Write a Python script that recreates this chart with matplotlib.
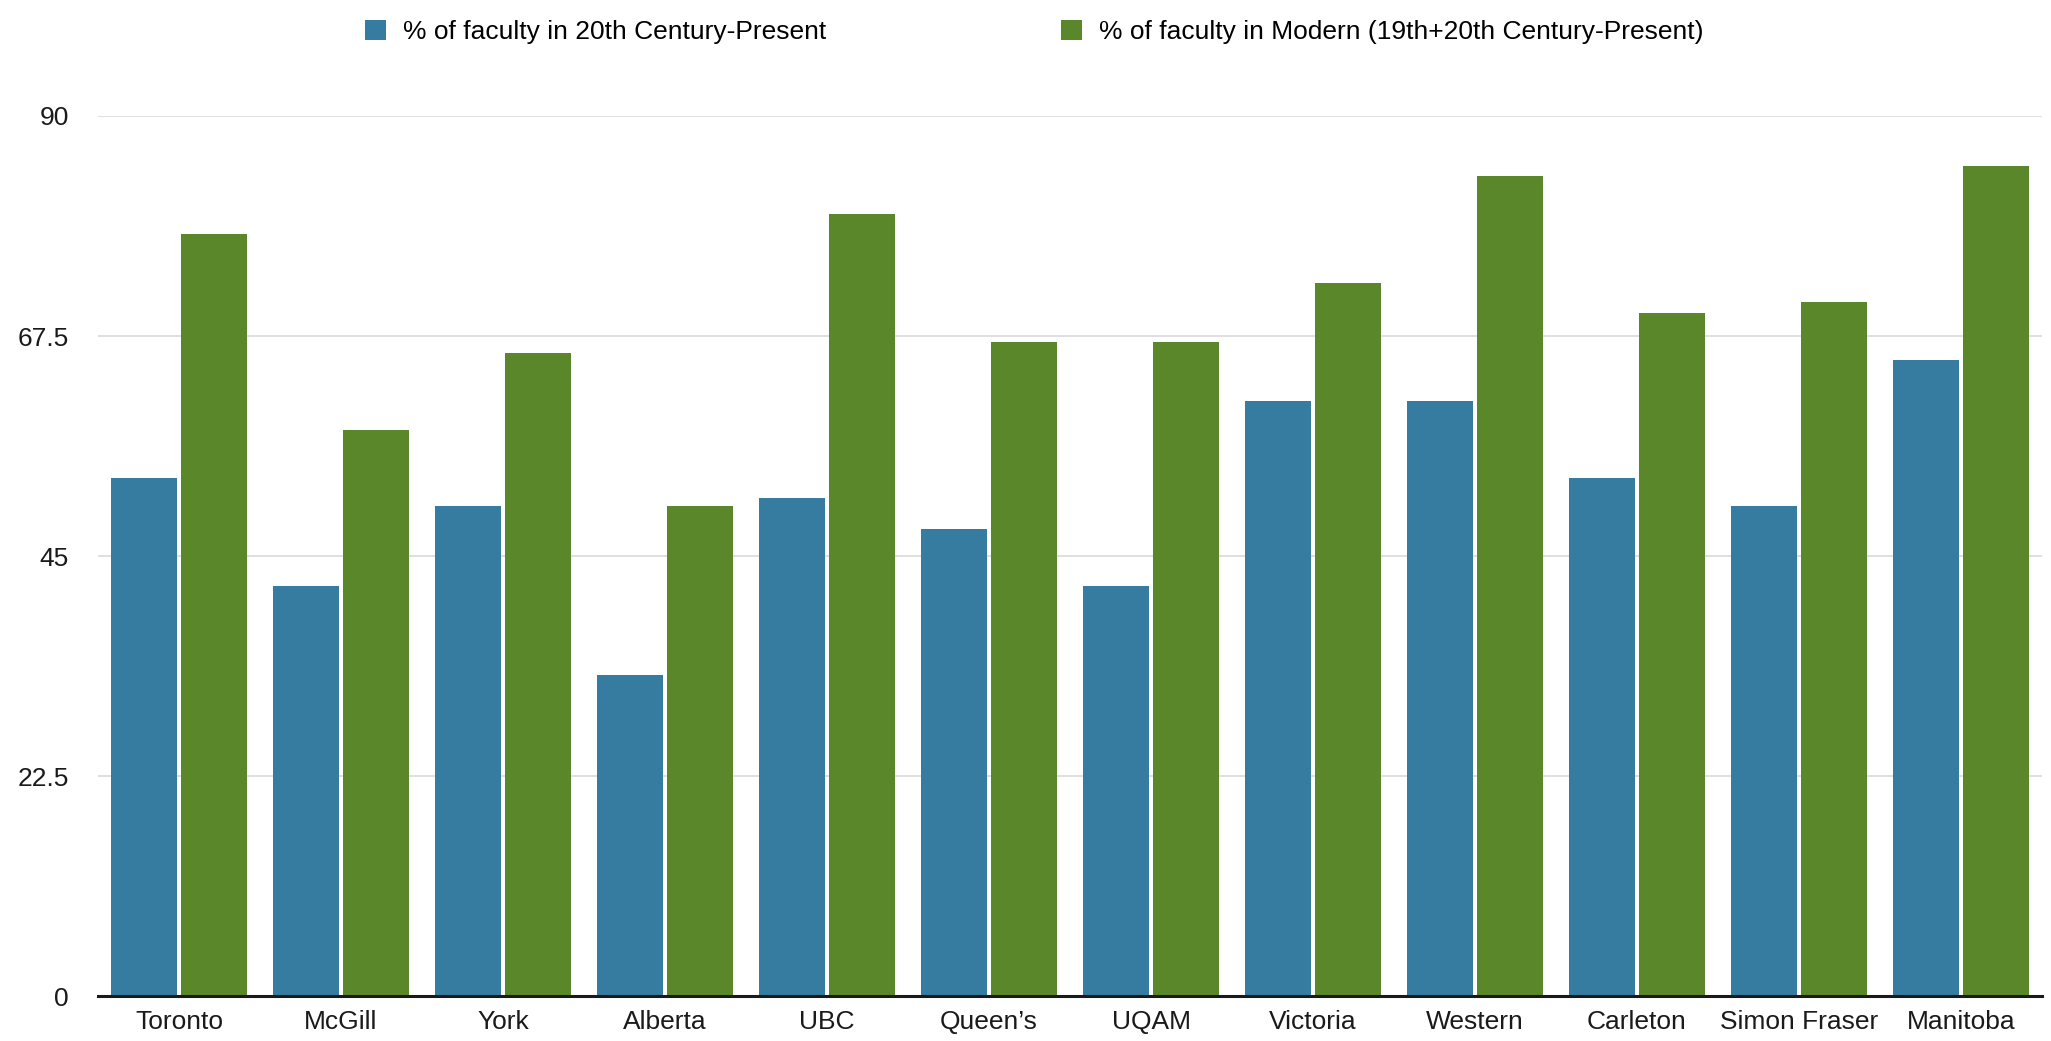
import matplotlib.pyplot as plt
import numpy as np

plt.rcParams["font.family"] = ["Liberation Sans", "DejaVu Sans"]

universities = ["Toronto", "McGill", "York", "Alberta", "UBC", "Queen\u2019s",
                "UQAM", "Victoria", "Western", "Carleton", "Simon Fraser", "Manitoba"]
pct_20th = [53.0, 41.9, 50.1, 32.8, 50.9, 47.8, 41.9, 60.9, 60.9, 53.0, 50.1, 65.0]
pct_modern = [77.9, 57.9, 65.8, 50.1, 80.0, 66.9, 66.9, 72.9, 83.9, 69.9, 71.0, 84.9]
series_names = ["% of faculty in 20th Century-Present",
                "% of faculty in Modern (19th+20th Century-Present)"]
yticks = [0, 22.5, 45, 67.5, 90]

blue = "#367ca1"
green = "#5a8729"

fig = plt.figure(figsize=(20.51, 10.41), dpi=100)
ax = fig.add_axes([98 / 2051, 45 / 1041, 1944 / 2051, 880 / 1041])

x = np.arange(len(universities))
w = 0.405
off = 0.2175
b1 = ax.bar(x - off, pct_20th, width=w, color=blue, zorder=3, label=series_names[0])
b2 = ax.bar(x + off, pct_modern, width=w, color=green, zorder=3, label=series_names[1])

ax.set_xlim(-0.5, len(universities) - 0.5)
ax.set_ylim(0, 90)
ax.set_yticks(yticks)
ax.set_yticklabels(["0", "22.5", "45", "67.5", "90"])
ax.set_xticks(x)
ax.set_xticklabels(universities)
ax.tick_params(axis="both", length=0, labelsize=19, labelcolor="#1a1a1a")
ax.tick_params(axis="y", pad=21)
ax.tick_params(axis="x", pad=10)

ax.grid(axis="y", color="#dcdcdc", linewidth=1.3, zorder=0)
ax.set_axisbelow(True)
for s in ["top", "right", "left"]:
    ax.spines[s].set_visible(False)
ax.spines["bottom"].set_color("#1a1a1a")
ax.spines["bottom"].set_linewidth(2.2)
ax.spines["bottom"].set_zorder(4)

fig.legend(handles=[b1, b2], labels=series_names, loc="center",
           bbox_to_anchor=(0.5044, 0.969), ncol=2, frameon=False,
           fontsize=19, handlelength=0.8, handleheight=0.8,
           handletextpad=0.64, columnspacing=8.9)

fig.savefig("out.png", dpi=100, facecolor="white")
